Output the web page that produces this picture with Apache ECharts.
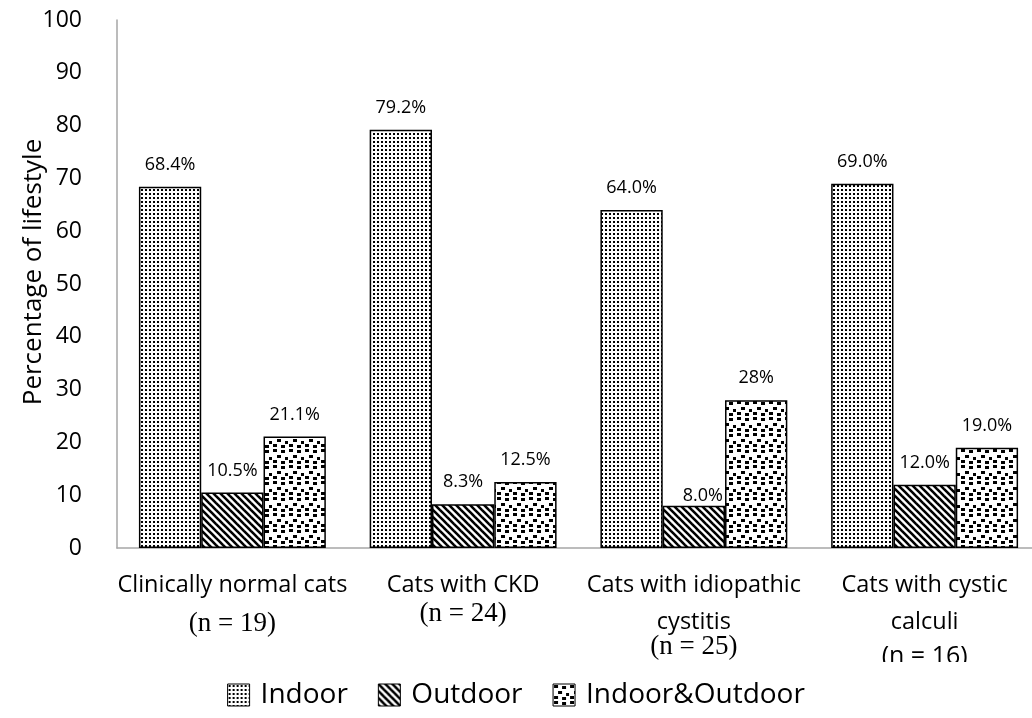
<!DOCTYPE html>
<html>
<head>
<meta charset="utf-8">
<script src="https://cdn.jsdelivr.net/npm/echarts@6/dist/echarts.min.js"></script>
<style>
  html, body { margin: 0; padding: 0; background: #fff; }
  #chart { width: 1032px; height: 718px; }
</style>
</head>
<body>
<div id="chart"></div>
<script>
// Lifestyle of cats by clinical group (percent of cats in each group)
const categories = ['Clinically normal cats', 'Cats with CKD', 'Cats with idiopathic\ncystitis', 'Cats with cystic\ncalculi'];
const groupSizes = ['(n = 19)', '(n = 24)', '(n = 25)', '(n = 16)'];
const seriesNames = ['Indoor', 'Outdoor', 'Indoor&Outdoor'];
// values as printed on the bars
const indoorValues = ['68.4', '79.2', '64.0', '69.0'];
const outdoorValues = ['10.5', '8.3', '8.0', '12.0'];
const bothValues = ['21.1', '12.5', '28', '19.0'];
const yTicks = { min: 0, max: 100, step: 10 };

// --- monochrome fill patterns ---
function tile(size, draw) {
  const c = document.createElement('canvas');
  c.width = size; c.height = size;
  const g = c.getContext('2d');
  g.fillStyle = '#fff';
  g.fillRect(0, 0, size, size);
  g.fillStyle = '#000';
  g.strokeStyle = '#000';
  draw(g, size);
  return { image: c, repeat: 'repeat' };
}
const dottedFill = tile(4, (g) => { g.fillRect(1, 1, 2, 2); });
const stripeFill = tile(7, (g, s) => {
  g.lineWidth = 2.6;
  for (let k = -1; k <= 1; k++) {
    g.beginPath();
    g.moveTo(k * s - 2, -2);
    g.lineTo(k * s + s + 2, s + 2);
    g.stroke();
  }
});
const confettiFill = tile(16, (g) => {
  [[1, 1], [9, 2], [5, 7], [13, 9], [1, 12], [9, 13]].forEach(([x, y]) => g.fillRect(x, y, 4, 3));
});
const fills = [dottedFill, stripeFill, confettiFill];
const valueSets = [indoorValues, outdoorValues, bothValues];

// category label layout: first line, then group size
const labelRows = [
  (c, n) => `{a|${c}}\n{n1|${n}}`,
  (c, n) => `{a|${c}}\n{n2|${n}}`,
  (c, n) => { const p = c.split('\n'); return `{a|${p[0]}}\n{b|${p[1]}}\n{n3|${n}}`; },
  (c, n) => { const p = c.split('\n'); return `{a|${p[0]}}\n{b|${p[1]}}\n{m|${n}}`; }
];

const series = seriesNames.map((name, si) => ({
  name,
  type: 'bar',
  barGap: '0%',
  barCategoryGap: '19%',
  itemStyle: { color: fills[si], borderColor: '#000', borderWidth: 1.5 },
  label: {
    show: true,
    position: 'top',
    distance: 13,
    fontFamily: 'Open Sans',
    fontSize: 18,
    color: '#000',
    formatter: (p) => valueSets[si][p.dataIndex] + '%'
  },
  data: valueSets[si].map((v, i) => {
    const item = { value: Number(v) };
    if (si === 1 && i === 2) item.label = { offset: [9, 12] };
    return item;
  })
}));

const chart = echarts.init(document.getElementById('chart'), null, { renderer: 'canvas' });
chart.setOption({
  backgroundColor: '#fff',
  animation: false,
  grid: { left: 117, top: 20, width: 923, height: 528, containLabel: false, outerBoundsMode: 'none' },
  legend: {
    left: 'center',
    top: 676,
    itemWidth: 22,
    itemHeight: 22,
    itemGap: 30,
    icon: 'rect',
    itemStyle: { borderColor: '#000', borderWidth: 1 },
    textStyle: { fontFamily: 'Open Sans', fontSize: 28, color: '#000', padding: [0, 0, 0, 6] },
    data: seriesNames
  },
  xAxis: {
    type: 'category',
    data: categories,
    axisLine: { lineStyle: { color: '#a6a6a6', width: 1.5 } },
    axisTick: { show: false },
    axisLabel: {
      margin: 12,
      interval: 0,
      color: '#000',
      formatter: (v, i) => labelRows[i](v, groupSizes[i]),
      rich: {
        a: { fontFamily: 'Open Sans', fontSize: 23.5, lineHeight: 50, color: '#000' },
        b: { fontFamily: 'Open Sans', fontSize: 23.5, lineHeight: 24, color: '#000' },
        n1: { fontFamily: 'Liberation Serif', fontSize: 27, lineHeight: 28, color: '#000' },
        n2: { fontFamily: 'Liberation Serif', fontSize: 27, lineHeight: 8, color: '#000' },
        n3: { fontFamily: 'Liberation Serif', fontSize: 27, lineHeight: 26, color: '#000' },
        m: { fontFamily: 'Open Sans', fontSize: 25, lineHeight: 46, color: '#000' }
      }
    }
  },
  yAxis: {
    type: 'value',
    min: yTicks.min,
    max: yTicks.max,
    interval: yTicks.step,
    name: 'Percentage of lifestyle',
    nameLocation: 'middle',
    nameGap: 70,
    nameMoveOverlap: false,
    nameTextStyle: { fontFamily: 'Open Sans', fontSize: 26, color: '#000', padding: [0, 0, 0, 24] },
    axisLine: { show: true, lineStyle: { color: '#a6a6a6', width: 1.5 } },
    axisTick: { show: false },
    splitLine: { show: false },
    axisLabel: { margin: 35, fontFamily: 'Open Sans', fontSize: 23, color: '#000' }
  },
  graphic: [{
    type: 'rect',
    left: 800, top: 662,
    shape: { width: 232, height: 10 },
    style: { fill: '#fff' },
    z: 100
  }],
  series
});
</script>
</body>
</html>
